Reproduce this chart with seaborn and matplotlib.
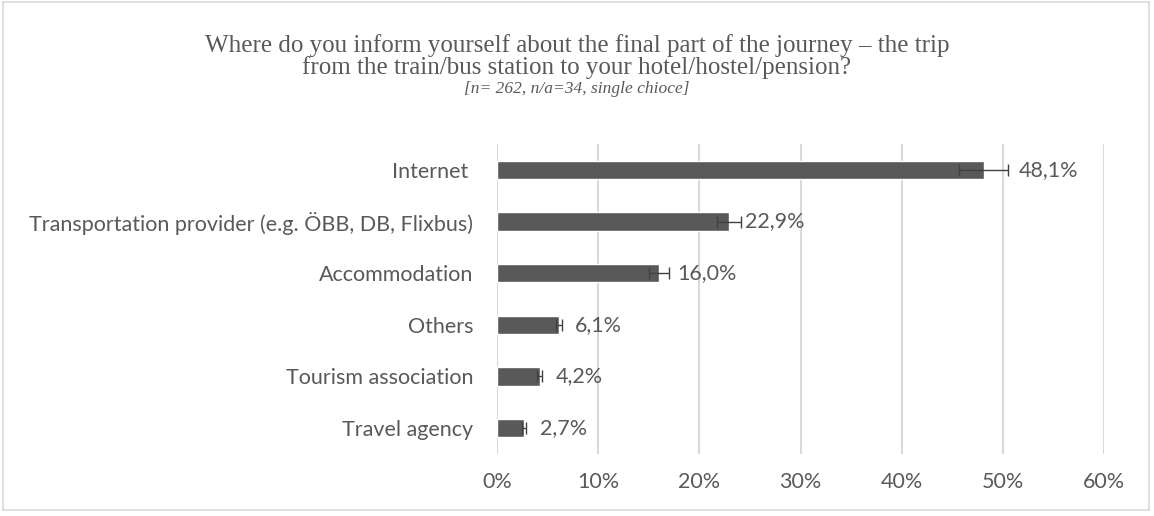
import matplotlib
matplotlib.use("Agg")
import matplotlib.pyplot as plt
import seaborn as sns
import pandas as pd
from matplotlib.patches import Rectangle
from matplotlib.ticker import FuncFormatter, MultipleLocator

# Survey answers (share of respondents, %) and their error margins
categories = ["Internet ", "Transportation provider (e.g. ÖBB, DB, Flixbus)",
              "Accommodation", "Others", "Tourism association", "Travel agency"]
shares = [48.1, 22.9, 16.0, 6.1, 4.2, 2.7]
errors = [2.4, 1.2, 1.0, 0.3, 0.25, 0.2]
value_labels = ["48,1%", "22,9%", "16,0%", "6,1%", "4,2%", "2,7%"]

title_main = ("Where do you inform yourself about the final part of the journey \u2013 the trip\n"
              "from the train/bus station to your hotel/hostel/pension?")
title_sub = "[n= 262, n/a=34, single chioce]"

df = pd.DataFrame({"category": categories, "share": shares})

sns.set_theme(style="white")
plt.rcParams["font.family"] = ["Lato", "DejaVu Sans"]

text_grey = "#595959"
bar_grey = "#595959"
grid_grey = "#d9d9d9"
label_size = 15.5

fig = plt.figure(figsize=(11.54, 5.16), dpi=100)
ax = fig.add_axes([0.4307, 0.1202, 0.5260, 0.6007])

sns.barplot(data=df, x="share", y="category", orient="h", color=bar_grey,
            saturation=1, width=0.35, errorbar=None, ax=ax)
ax.errorbar(shares, range(len(shares)), xerr=errors, fmt="none",
            ecolor="#404040", elinewidth=1.0, capsize=4, capthick=1.0, zorder=4)

ax.set_xlim(0, 60)
ax.set_ylim(len(categories) - 0.5, -0.5)
ax.xaxis.set_major_locator(MultipleLocator(10))
ax.xaxis.set_major_formatter(FuncFormatter(lambda v, p: f"{v:.0f}%"))
ax.grid(axis="x", color=grid_grey, linewidth=1.5)
ax.set_axisbelow(True)
for s in ax.spines.values():
    s.set_visible(False)
ax.set_xlabel("")
ax.set_ylabel("")
ax.tick_params(axis="both", length=0, labelsize=label_size, colors=text_grey)
ax.tick_params(axis="y", pad=17)
ax.tick_params(axis="x", pad=13)

# value labels to the right of each bar
offsets = [35, 16, 18, 16, 16, 16]
for i, (v, lab) in enumerate(zip(shares, value_labels)):
    ax.annotate(lab, xy=(v, i), xytext=(offsets[i], 0), textcoords="offset pixels",
                ha="left", va="center", fontsize=label_size, color=text_grey)

fig.text(0.5, 0.8905, title_main, ha="center", va="center", fontsize=18,
         family="Liberation Serif", color=text_grey, linespacing=0.95)
fig.text(0.5, 0.827, title_sub, ha="center", va="center", fontsize=12.5,
         family="Liberation Serif", style="italic", color=text_grey)

# chart-area border
fig.patches.append(Rectangle((0.003, 0.012), 0.993, 0.985, transform=fig.transFigure,
                             fill=False, edgecolor=grid_grey, linewidth=1.2))

fig.savefig("out.png", dpi=100)
